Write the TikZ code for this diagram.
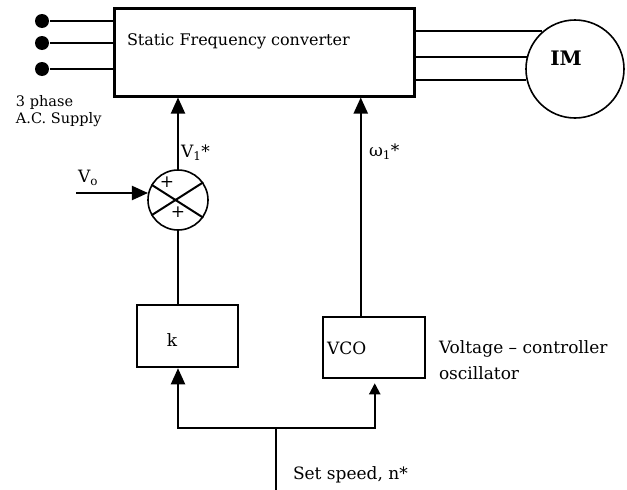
\documentclass[tikz,border=0pt]{standalone}
\usepackage{fontspec}
\setmainfont{DejaVu Serif}
\usetikzlibrary{positioning, arrows.meta}

\begin{document}
\begin{tikzpicture}[x=1pt, y=-1pt, line width=2pt,
  box/.style={draw, line width=2.5pt, inner sep=0pt},
  ring/.style={draw, circle, line width=1.6pt, inner sep=0pt},
  dot/.style={circle, fill, inner sep=0pt, minimum size=14pt},
  txt/.style={font=\fontsize{17}{20}\selectfont, inner sep=0pt},
  small/.style={font=\fontsize{14.5}{17}\selectfont, inner sep=0pt, align=left},
  arr/.style={-{Triangle[length=16pt, width=14pt]}},
  sarr/.style={-{Triangle[length=11pt, width=11pt]}}]
\useasboundingbox (0,0) rectangle (627,490);

% converter and motor
\node[box, minimum width=300pt, minimum height=88pt, anchor=north west] (sfc) at (113,7) {};
\node[txt, anchor=west, font=\fontsize{16}{19}\selectfont] (sfclabel) at (126,41) {Static Frequency converter};
\node[ring, minimum size=98pt] (im) at (575,69) {};
\node[font=\fontsize{20}{24}\selectfont\bfseries, inner sep=0pt] (imlabel) at (566,58) {IM};
\foreach \a in {131,166,193}
  \draw (sfc.east |- im.\a) -- (im.\a);

% supply
\node[dot] (p1) at (42,21) {};
\node[dot] (p2) at (42,43) {};
\node[dot] (p3) at (42,69) {};
\foreach \p in {p1,p2,p3}
  \draw (\p) -- (\p -| sfc.west);
\node[small, anchor=north west] (supply) at (15,94) {3 phase\\A.C. Supply};

% voltage branch
\node[ring, minimum size=60pt] (sum) at (178,200) {};
\draw (sum.150) -- (sum.-35);
\draw (sum.210) -- (sum.35);
\node[txt] (plusa) at (167,182) {+};
\node[txt] (plusb) at (178,212) {+};
\coordinate (vo) at (76,193);
\draw[arr] (vo) -- (vo -| sum.167);
\node[txt] (volabel) at (88,178) {V\textsubscript{o}};
\draw[arr] (sum.north) -- (sum.north |- sfc.south);
\node[txt, anchor=west] (vlabel) at (180,153) {V\textsubscript{1}*};
\node[box, minimum width=101pt, minimum height=62pt] (k) at (187.5,336) {};
\node[txt] (klabel) at (172,340) {k};
\draw (sum.south) -- (sum.south |- k.north);

% frequency branch
\node[box, minimum width=102pt, minimum height=61pt] (vco) at (374,347.5) {};
\node[txt, anchor=west] (vcolabel) at (326,348) {VCO};
\node[txt, align=left, anchor=west, font=\fontsize{17}{26}\selectfont] (vconote) at (438,360) {Voltage -- controller\\oscillator};
\coordinate (wtap) at ([xshift=39pt]vco.north west);
\draw[arr] (wtap) -- (wtap |- sfc.south);
\node[txt, anchor=west] (wlabel) at (368,152) {ω\textsubscript{1}*};

% speed reference
\coordinate (speed) at (276,490);
\coordinate (split) at (276,428);
\draw (speed) -- (split);
\draw[arr] (split) -| (k.south -| sum.south);
\draw[sarr, shorten >=4pt] (split) -| ([xshift=53pt]vco.south west);
\node[txt, anchor=west] (speedlabel) at (292,475) {Set speed, n*};
\end{tikzpicture}
\end{document}
